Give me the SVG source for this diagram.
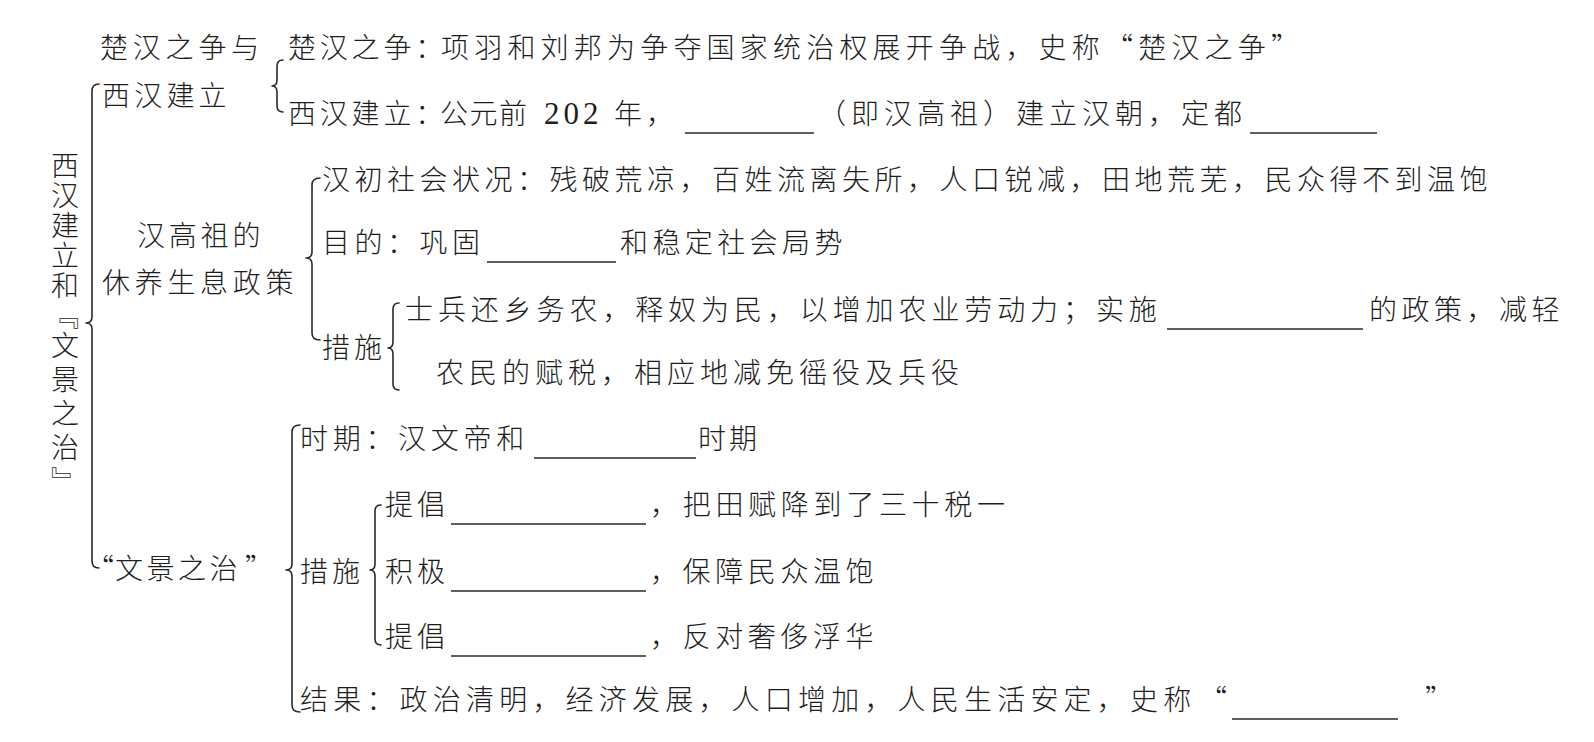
<svg xmlns="http://www.w3.org/2000/svg" width="1594" height="742" viewBox="0 0 1594 742">
<style>
.t{font-family:"Noto Sans CJK SC","Noto Sans CJK TC",sans-serif;font-size:28px;font-weight:300;fill:#1e1e1e}
.v{font-family:"Noto Sans CJK SC","Noto Sans CJK TC",sans-serif;font-size:28px;font-weight:300;fill:#1e1e1e;writing-mode:vertical-rl}
.n{font-family:"Liberation Serif",serif;font-size:31px;fill:#1e1e1e}
.br{fill:none;stroke:#2a2a2a;stroke-width:1.6;stroke-linecap:round;stroke-linejoin:round}
.ul{stroke:#2a2a2a;stroke-width:1.4}
</style>
<rect width="1594" height="742" fill="#ffffff"/>
<g id="connectors">
<path class="br" d="M99 84 Q92 84 92 91 L92 317 Q92 323 86 323 Q92 323 92 329 L92 561 Q92 568 99 568"/>
<path class="br" d="M283 60 Q277 60 277 66 L277 80 Q277 86 272 86 Q277 86 277 92 L277 106 Q277 112 283 112"/>
<path class="br" d="M320 178 Q312 178 312 185 L312 252 Q312 258 306 258 Q312 258 312 264 L312 333 Q312 340 320 340"/>
<path class="br" d="M399 303 Q393 303 393 309 L393 342 Q393 348 388 348 Q393 348 393 354 L393 384 Q393 390 399 390"/>
<path class="br" d="M300 425 Q292 425 292 432 L292 564 Q292 570 286 570 Q292 570 292 576 L292 705 Q292 712 300 712"/>
<path class="br" d="M381 505 Q375 505 375 511 L375 564 Q375 570 370 570 Q375 570 375 576 L375 639 Q375 645 381 645"/>
</g>
<g id="root">
<text class="v" x="65" y="151" letter-spacing="2">西汉建立和『</text>
<text class="v" x="65" y="331" letter-spacing="6">文景之治』</text>
</g>
<g id="chuhan">
<text class="t" x="100" y="58" letter-spacing="4.8">楚汉之争与</text>
<text class="t" x="102" y="106" letter-spacing="4.2">西汉建立</text>
</g>
<g id="chuhan-war">
<text class="t" x="288" y="58" letter-spacing="3.8">楚汉之争：<tspan x="441" letter-spacing="5.2">项羽和刘邦为争夺国家统治权展开争战，史称“楚汉之争”</tspan></text>
</g>
<g id="xihan-found">
<text class="t" x="288" y="124" letter-spacing="3.8">西汉建立：<tspan x="440" letter-spacing="1.5">公元前</tspan><tspan class="n" x="544" letter-spacing="4">202</tspan><tspan x="614" letter-spacing="4">年，</tspan><tspan x="818" letter-spacing="5">（即汉高祖）建立汉朝，定都</tspan></text>
<line class="ul" x1="685" y1="133" x2="814" y2="133"/>
<line class="ul" x1="1250" y1="133" x2="1377" y2="133"/>
</g>
<g id="xiuyang">
<text class="t" x="137" y="246" letter-spacing="3.8">汉高祖的</text>
<text class="t" x="102" y="293" letter-spacing="4.7">休养生息政策</text>
</g>
<g id="shehui">
<text class="t" x="322" y="190" letter-spacing="4.5">汉初社会状况：残破荒凉，百姓流离失所，人口锐减，田地荒芜，民众得不到温饱</text>
</g>
<g id="mudi">
<text class="t" x="322" y="253" letter-spacing="4.5">目的：巩固<tspan x="620" letter-spacing="4.4">和稳定社会局势</tspan></text>
<line class="ul" x1="487" y1="262" x2="616" y2="262"/>
</g>
<g id="cuoshi1">
<text class="t" x="322" y="358" letter-spacing="4">措施</text>
<text class="t" x="405" y="320" letter-spacing="4.9">士兵还乡务农，释奴为民，以增加农业劳动力；实施<tspan x="1369" letter-spacing="4.5">的政策，减轻</tspan></text>
<line class="ul" x1="1167" y1="329" x2="1363" y2="329"/>
<text class="t" x="436" y="383" letter-spacing="5">农民的赋税，相应地减免徭役及兵役</text>
</g>
<g id="wenjing">
<text class="t" x="86" y="579" letter-spacing="3.5">“<tspan x="115">文景之治</tspan><tspan x="245">”</tspan></text>
</g>
<g id="shiqi">
<text class="t" x="300" y="449" letter-spacing="4.7">时期：汉文帝和<tspan x="698" letter-spacing="3">时期</tspan></text>
<line class="ul" x1="534" y1="458" x2="696" y2="458"/>
</g>
<g id="cuoshi2">
<text class="t" x="300" y="582" letter-spacing="4">措施</text>
<text class="t" x="385" y="515" letter-spacing="4">提倡<tspan x="650" letter-spacing="4.7">，把田赋降到了三十税一</tspan></text>
<line class="ul" x1="451" y1="524" x2="646" y2="524"/>
<text class="t" x="385" y="582" letter-spacing="4">积极<tspan x="650" letter-spacing="4.6">，保障民众温饱</tspan></text>
<line class="ul" x1="451" y1="591" x2="646" y2="591"/>
<text class="t" x="385" y="647" letter-spacing="4">提倡<tspan x="650" letter-spacing="4.6">，反对奢侈浮华</tspan></text>
<line class="ul" x1="451" y1="656" x2="646" y2="656"/>
</g>
<g id="jieguo">
<text class="t" x="300" y="710" letter-spacing="5.2">结果：政治清明，经济发展，人口增加，人民生活安定，史称<tspan x="1199">“</tspan><tspan x="1425">”</tspan></text>
<line class="ul" x1="1232" y1="719" x2="1398" y2="719"/>
</g>
</svg>
